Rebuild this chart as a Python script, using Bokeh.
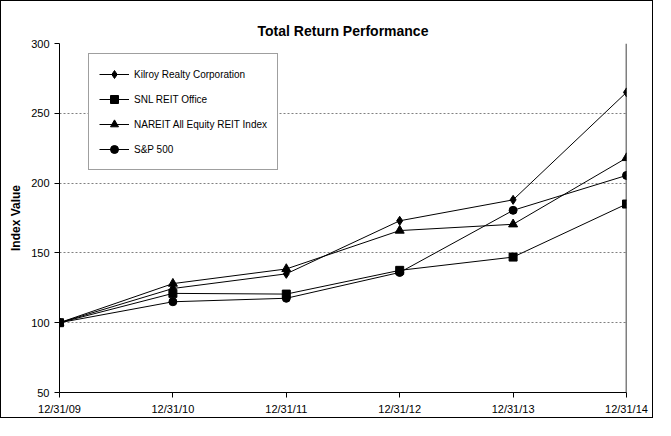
from bokeh.plotting import figure
from bokeh.models import Span, Legend, LegendItem, FixedTicker, Title
from bokeh.embed import file_html
from bokeh.resources import INLINE

years = ["12/31/09", "12/31/10", "12/31/11", "12/31/12", "12/31/13", "12/31/14"]
kilroy = [100, 124.5, 135, 173, 188, 265]
snl = [100, 121, 120.5, 137.5, 147, 185]
nareit = [100, 128, 138.5, 166, 170.5, 218]
sp500 = [100, 115, 117.5, 136, 180.5, 205.5]
yticks = [50, 100, 150, 200, 250, 300]

x = list(range(len(years)))
F = "Liberation Sans"

p = figure(width=653, height=418, output_backend="svg", toolbar_location=None,
           x_range=(0, 5), y_range=(50, 300),
           min_border_left=58, min_border_right=28, min_border_top=42, min_border_bottom=27)
p.styles = {"border": "1px solid black"}
p.title = Title(text="Total Return Performance", align="center", text_font=F,
                text_font_size="14px", text_font_style="bold", text_color="black", offset=0)
p.title.standoff = 10
p.outline_line_color = None
p.xgrid.visible = False
p.ygrid.grid_line_color = "#808080"
p.ygrid.grid_line_dash = "2 2"
p.yaxis.ticker = FixedTicker(ticks=yticks)
p.xaxis.ticker = FixedTicker(ticks=x)
p.xaxis.major_label_overrides = {i: s for i, s in enumerate(years)}
for ax in (p.xaxis, p.yaxis):
    ax.major_label_text_font = F
    ax.major_label_text_font_size = "11px"
    ax.major_label_text_color = "black"
    ax.axis_line_color = "black"
    ax.major_tick_line_color = "black"
    ax.minor_tick_line_color = None
    ax.major_tick_in = 0
    ax.major_tick_out = 5
p.yaxis.axis_label = "Index Value"
p.yaxis.axis_label_text_font = F
p.yaxis.axis_label_text_font_size = "12px"
p.yaxis.axis_label_text_font_style = "bold"
p.yaxis.axis_label_text_color = "black"
p.add_layout(Span(location=5, dimension="height", line_color="black", line_width=1.5))

items = []
specs = [("Kilroy Realty Corporation", kilroy, "diamond", 9),
         ("SNL REIT Office", snl, "square", 8),
         ("NAREIT All Equity REIT Index", nareit, "triangle", 9),
         ("S&P 500", sp500, "circle", 8)]
for name, ys, mk, sz in specs:
    l = p.line(x, ys, line_color="black", line_width=1)
    s = p.scatter(x, ys, marker=mk, size=sz, fill_color="black", line_color="black")
    items.append(LegendItem(label=name, renderers=[l, s]))

leg = Legend(items=items, location=(29, 222), label_text_font=F, label_text_font_size="10px",
             label_text_color="black",
             border_line_color="#404040", border_line_width=1, spacing=5, padding=10,
             glyph_width=30, label_height=14, background_fill_alpha=1)
p.add_layout(leg, "center")

open("out.html", "w").write(file_html(p, INLINE))
